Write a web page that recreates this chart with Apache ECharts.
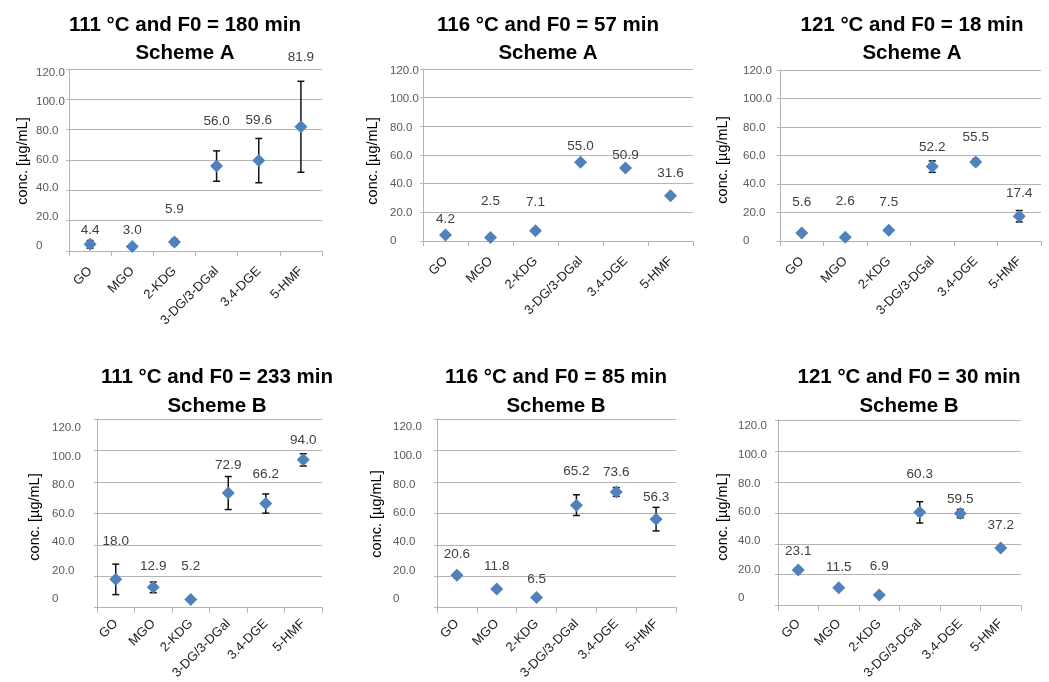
<!DOCTYPE html>
<html><head><meta charset="utf-8">
<script src="https://cdn.jsdelivr.net/npm/echarts@6.0.0/dist/echarts.min.js"></script>
<style>html,body{margin:0;padding:0;background:#fff}#c{width:1049px;height:682px}</style>
</head><body><div id="c"></div>
<script>
// ---------- data ----------
const categories = ['GO', 'MGO', '2-KDG', '3-DG/3-DGal', '3.4-DGE', '5-HMF'];
const yMin = 0, yMax = 120, yStep = 20;
const titleLines1 = ['111 °C and F0 = 180 min', '116 °C and F0 = 57 min', '121 °C and F0 = 18 min',
                     '111 °C and F0 = 233 min', '116 °C and F0 = 85 min', '121 °C and F0 = 30 min'];
const titleLines2 = ['Scheme A', 'Scheme A', 'Scheme A', 'Scheme B', 'Scheme B', 'Scheme B'];
const axisName = 'conc. [µg/mL]';

const values111A = [4.4, 3.0, 5.9, 56.0, 59.6, 81.9];
const errors111A = [2.5, 0.5, 2.0, 10.0, 14.6, 30.0];
const values116A = [4.2, 2.5, 7.1, 55.0, 50.9, 31.6];
const errors116A = [0.8, 0.5, 0.8, 1.0, 1.0, 1.0];
const values121A = [5.6, 2.6, 7.5, 52.2, 55.5, 17.4];
const errors121A = [0.5, 0.5, 0.5, 4.0, 2.0, 4.0];
const values111B = [18.0, 12.9, 5.2, 72.9, 66.2, 94.0];
const errors111B = [9.7, 3.4, 0.5, 10.5, 6.1, 3.9];
const values116B = [20.6, 11.8, 6.5, 65.2, 73.6, 56.3];
const errors116B = [1.5, 0.5, 0.5, 6.6, 2.8, 7.5];
const values121B = [23.1, 11.5, 6.9, 60.3, 59.5, 37.2];
const errors121B = [0.5, 0.5, 0.5, 6.9, 2.7, 0.5];

const panelValues = [values111A, values116A, values121A, values111B, values116B, values121B];
const panelErrors = [errors111A, errors116A, errors121A, errors111B, errors116B, errors121B];

// ---------- layout (pixels) ----------
const frames = [
  {left:69,  right:322,  top:69,  bottom:251, labTop:72.7, labBottom:246,   labX:36,  titleX:185, t1:25,  t2:53,  nameX:23,  nameY:161, xm:18},
  {left:423, right:693,  top:69,  bottom:241, labTop:70.7, labBottom:240.7, labX:390, titleX:548, t1:25,  t2:53,  nameX:373, nameY:161, xm:18},
  {left:780, right:1041, top:70,  bottom:241, labTop:70.7, labBottom:240.7, labX:743, titleX:912, t1:25,  t2:53,  nameX:723, nameY:160, xm:18},
  {left:97,  right:322,  top:419, bottom:609, labTop:428,  labBottom:599,   labX:52,  titleX:217, t1:377, t2:406, nameX:35,  nameY:517, xm:14},
  {left:437, right:676,  top:419, bottom:610, labTop:427,  labBottom:599,   labX:393, titleX:556, t1:377, t2:406, nameX:377, nameY:514, xm:14},
  {left:778, right:1021, top:420, bottom:606, labTop:426,  labBottom:598,   labX:738, titleX:909, t1:377, t2:406, nameX:723, nameY:517, xm:16}
];
// label lift above marker centre, in pixels
const labelLifts = [
  [14, 16, 33, 45, 40, 70],
  [16, 36, 29, 16, 13, 22],
  [31, 36, 28, 19, 25, 23],
  [38, 21, 33, 28, 29, 20],
  [21, 23, 18, 34, 20, 22],
  [19, 21, 29, 38, 14, 23]
];

const FONT = '"Liberation Sans", Arial, sans-serif';
const gridColor = '#b4b4b4';
const markerColor = '#4F81BD';

const option = {
  animation: false,
  backgroundColor: '#fff',
  grid: [], xAxis: [], yAxis: [], series: [], graphic: []
};

frames.forEach((f, p) => {
  const gMain = option.grid.length;
  option.grid.push({left: f.left, top: f.top, width: f.right - f.left, height: f.bottom - f.top, containLabel: false});
  option.xAxis.push({
    gridIndex: gMain, type: 'category', data: categories, boundaryGap: true,
    axisLine: {show: true, lineStyle: {color: gridColor, width: 1}},
    axisTick: {show: true, length: 5, lineStyle: {color: gridColor}},
    axisLabel: {interval: 0, rotate: 45, margin: f.xm, fontSize: 13, color: '#222', fontFamily: FONT},
    splitLine: {show: false}
  });
  option.yAxis.push({
    gridIndex: gMain, type: 'value', min: yMin, max: yMax, interval: yStep,
    axisLine: {show: true, lineStyle: {color: gridColor, width: 1}},
    axisTick: {show: true, length: 3, lineStyle: {color: gridColor}},
    axisLabel: {show: false},
    splitLine: {show: true, lineStyle: {color: gridColor, width: 1}}
  });
  const axMain = option.xAxis.length - 1;

  // label-only grid for tick labels
  const gLab = option.grid.length;
  option.grid.push({left: f.left, top: f.labTop, width: 10, height: f.labBottom - f.labTop});
  option.xAxis.push({gridIndex: gLab, type: 'value', show: false});
  option.yAxis.push({
    gridIndex: gLab, type: 'value', min: yMin, max: yMax, interval: yStep,
    axisLine: {show: false}, axisTick: {show: false}, splitLine: {show: false},
    axisLabel: {show: true, align: 'left', margin: f.left - f.labX, fontSize: 11.5, color: '#595959', fontFamily: FONT,
      formatter: v => v === 0 ? '0' : v.toFixed(1)}
  });

  const vals = panelValues[p], errs = panelErrors[p], lifts = labelLifts[p];
  option.series.push({
    type: 'custom', xAxisIndex: axMain, yAxisIndex: axMain, z: 2,
    data: vals.map((v, i) => [i, v - errs[i], v + errs[i]]),
    renderItem: (params, api) => {
      const x = api.value(0);
      const a = api.coord([x, api.value(2)]);
      const b = api.coord([x, api.value(1)]);
      const cap = 3.5;
      const st = {stroke: '#111', lineWidth: 1.5};
      return {type: 'group', children: [
        {type: 'line', shape: {x1: a[0], y1: a[1], x2: b[0], y2: b[1]}, style: st},
        {type: 'line', shape: {x1: a[0] - cap, y1: a[1], x2: a[0] + cap, y2: a[1]}, style: st},
        {type: 'line', shape: {x1: b[0] - cap, y1: b[1], x2: b[0] + cap, y2: b[1]}, style: st}
      ]};
    }
  });
  option.series.push({
    type: 'scatter', xAxisIndex: axMain, yAxisIndex: axMain, z: 3,
    symbol: 'diamond', symbolSize: [13, 13],
    itemStyle: {color: markerColor, opacity: 1},
    label: {show: true, position: 'inside', color: '#404040', fontSize: 13.5, fontFamily: FONT,
      formatter: prm => prm.value[1].toFixed(1)},
    data: vals.map((v, i) => ({value: [i, v], label: {offset: [0, -lifts[i]]}}))
  });

  option.graphic.push(
    {type: 'text', x: f.titleX, y: f.t1, style: {text: titleLines1[p], align: 'center', verticalAlign: 'middle',
      fontSize: 20.5, fontWeight: 'bold', fontFamily: FONT, fill: '#000'}},
    {type: 'text', x: f.titleX, y: f.t2, style: {text: titleLines2[p], align: 'center', verticalAlign: 'middle',
      fontSize: 20.5, fontWeight: 'bold', fontFamily: FONT, fill: '#000'}},
    {type: 'text', x: f.nameX, y: f.nameY, rotation: Math.PI / 2, style: {text: axisName, align: 'center', verticalAlign: 'middle',
      fontSize: 14.5, fontFamily: FONT, fill: '#000'}}
  );
});

const chart = echarts.init(document.getElementById('c'), null, {renderer: 'canvas'});
chart.setOption(option);
</script>
</body></html>
